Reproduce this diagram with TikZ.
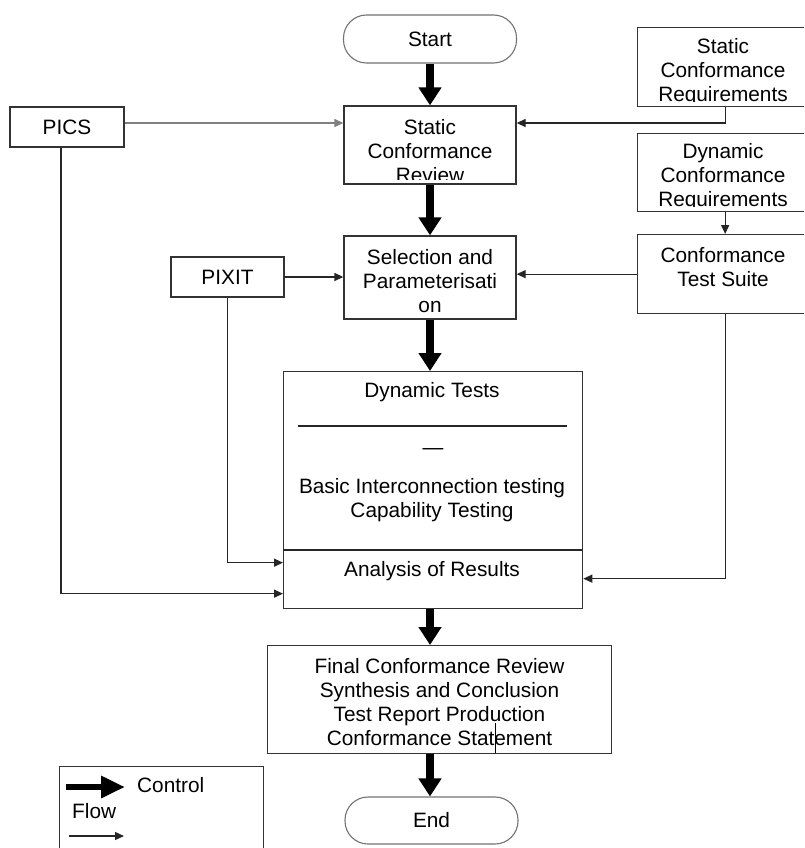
\documentclass[tikz,border=0pt]{standalone}
\usepackage{fontspec}
\setmainfont{Liberation Sans}
\usetikzlibrary{arrows.meta}
\begin{document}
\begin{tikzpicture}[x=1pt,y=-1pt,
  font=\fontsize{20.8}{24}\selectfont,
  box/.style={draw=black!80, line width=1.3pt, inner sep=0pt},
  txt/.style={align=center, inner sep=0pt},
  term/.style={draw=black!55, line width=1.1pt, rounded corners=23pt, inner sep=0pt},
  ctrl/.style={line width=7.5pt, black, -{Triangle[width=22pt,length=18pt]}},
  flow/.style={line width=1.3pt, black!85, -{Triangle[width=8pt,length=9pt]}},
  rule/.style={line width=1.3pt, black!85}]
\clip (0,0) rectangle (804,848);
\fill[white] (0,0) rectangle (804,848);

% terminals
\node[term, minimum width=173pt, minimum height=48pt] (start) at (430,39) {Start};
\node[term, minimum width=173pt, minimum height=47pt] (end) at (431.5,820.5) {End};

% boxes
\node[box, minimum width=172pt, minimum height=78pt] (rev) at (430,145) {};
\node[box, anchor=north west, minimum width=175pt, minimum height=79pt] (scr) at (637,27) {};
\node[box, anchor=north west, minimum width=175pt, minimum height=78pt] (dcr) at (637,133) {};
\node[box, anchor=north west, minimum width=175pt, minimum height=79pt] (cts) at (637,234) {};
\node[box, minimum width=172pt, minimum height=83pt] (sel) at (430,277.5) {};
\node[box, minimum width=114pt, minimum height=40pt] (pics) at (67,127) {PICS};
\node[box, minimum width=113pt, minimum height=40pt] (pixit) at (227.5,277) {PIXIT};
\node[box, anchor=north west, minimum width=299pt, minimum height=237pt] (dyn) at (283,371) {};
\node[box, anchor=north west, minimum width=344pt, minimum height=108pt] (fin) at (267,645) {};
\node[box, anchor=north west, minimum width=204pt, minimum height=120pt] (leg) at (59,766) {};

% clipped texts (cut off at the bottom as in the original)
\begin{scope}
  \clip ([yshift=5pt]rev.south west) rectangle (rev.north east);
  \node[txt] (revt) at (430,151) {Static\\Conformance\\Review};
\end{scope}
\begin{scope}
  \clip ([yshift=6pt]scr.south west) rectangle (scr.north east);
  \node[txt] (scrt) at (723,72) {Static\\Conformance\\Requirements};
\end{scope}
\begin{scope}
  \clip ([yshift=6pt]dcr.south west) rectangle (dcr.north east);
  \node[txt] (dcrt) at (723,177) {Dynamic\\Conformance\\Requirements};
\end{scope}
\node[txt] (ctst) at (723,267.5) {Conformance\\Test Suite};
\node[txt] (selt) at (430,281) {Selection and\\Parameterisati\\on};

% dynamic tests content
\node[txt] (dtt) at (432,392) {Dynamic Tests};
\coordinate (r1) at (298,426);
\coordinate (r2) at (567,426);
\draw[rule] (r1) -- (r2);
\node[inner sep=0pt, anchor=base] (dash) at (433,454) {—};
\node[txt] (bit) at (432,500) {Basic Interconnection testing\\Capability Testing};
\coordinate (d1) at (283,550);
\coordinate (d2) at (582,550);
\draw[rule] (d1) -- (d2);
\node[txt] (aor) at (432,571) {Analysis of Results};

% final box content
\node[txt] (fint) at (439.5,702) {Final Conformance Review\\Synthesis and Conclusion\\Test Report Production\\Conformance Statement};
\coordinate (k1) at (495,723);
\coordinate (k2) at (495,753);
\draw[line width=1pt] (k1) -- (k2);

% control flow
\draw[ctrl] (start) -- (rev);
\draw[ctrl] (rev) -- (sel);
\draw[ctrl] (sel.south) -- (sel.south |- dyn.north);
\draw[ctrl] (sel.south |- dyn.south) -- (sel.south |- fin.north);
\draw[ctrl] (sel.south |- fin.south) -- (sel.south |- end.north);

% information flow
\coordinate (pa) at ([yshift=4pt]pics.east);
\draw[flow, draw=black!50] (pa) -- (pa -| rev.west);
\draw[flow] (scr.south) |- ([yshift=22pt]rev.east);
\draw[flow] (dcr.south) -- (cts.north);
\draw[flow] (cts.west) -- (cts.west -| sel.east);
\draw[flow] (pixit.east) -- (pixit.east -| sel.west);
\draw[flow] (pixit.south) |- ([yshift=-72.5pt]dyn.west);
\coordinate (pb) at ([xshift=-6pt]pics.south);
\draw[flow] (pb) |- ([yshift=-103.5pt]dyn.west);
\draw[flow] (cts.south) |- ([yshift=-88.5pt]dyn.east);

% legend
\coordinate (la) at (66,787);
\coordinate (lb) at (125,787);
\draw[line width=6.5pt, black, -{Triangle[width=21pt,length=24pt]}] (la) -- (lb);
\node[anchor=west, inner sep=0pt] (lctrl) at (137,785) {Control};
\node[anchor=west, inner sep=0pt] (lflow) at (72,811) {Flow};
\coordinate (lc) at (69,836);
\coordinate (ld) at (124,836);
\draw[flow] (lc) -- (ld);
\end{tikzpicture}
\end{document}
